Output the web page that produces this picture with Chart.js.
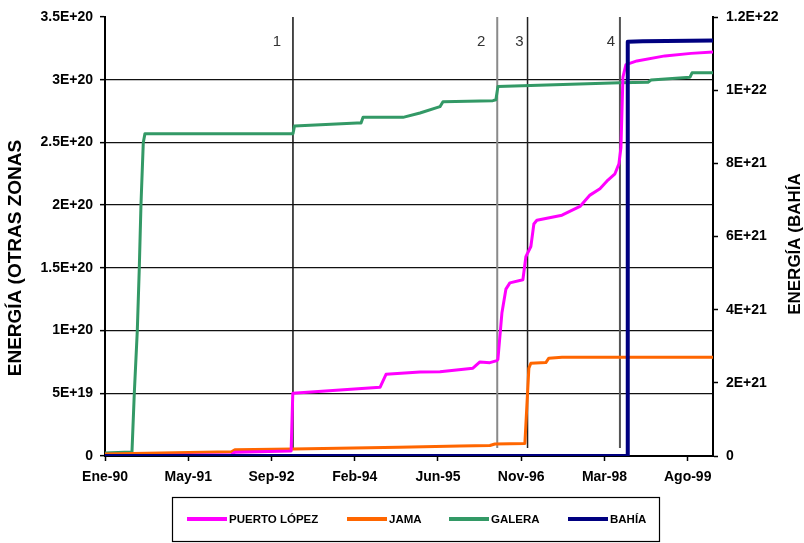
<!DOCTYPE html>
<html>
<head>
<meta charset="utf-8">
<script src="https://cdn.jsdelivr.net/npm/chart.js@4/dist/chart.umd.min.js"></script>
<style>
  html, body { margin: 0; padding: 0; background: #fff; }
  canvas { display: block; }
</style>
</head>
<body>
<canvas id="grafico" width="804" height="543"></canvas>
<script>
// Eje X: días transcurridos desde el 1 de enero de 1990
const diaInicio = 0;      // Ene-90
const diaFin = 3652;      // Ene-00

// Marcas del eje X (cada 500 días) y sus rótulos
const tickDias = [0, 500, 1000, 1500, 2000, 2500, 3000, 3500];
const tickRotulos = ['Ene-90', 'May-91', 'Sep-92', 'Feb-94', 'Jun-95', 'Nov-96', 'Mar-98', 'Ago-99'];

// Energía acumulada — Puerto López (eje izquierdo)
const diasPuertoLopez = [0, 760, 780, 1118, 1128, 1652, 1688, 1892, 2012, 2210, 2252, 2312, 2354, 2360, 2384,
  2408, 2432, 2510, 2528, 2558, 2576, 2594, 2745, 2853, 2913, 2973, 3021, 3063, 3087, 3099, 3111, 3129, 3195,
  3363, 3520, 3652];
const energiaPuertoLopez = [0, 1.0e18, 3.0e18, 4.0e18, 5.0e19, 5.48e19, 6.51e19, 6.70e19, 6.72e19, 7.0e19, 7.5e19,
  7.44e19, 7.6e19, 7.7e19, 1.14e20, 1.33e20, 1.38e20, 1.405e20, 1.59e20, 1.67e20, 1.85e20, 1.88e20, 1.92e20,
  1.99e20, 2.08e20, 2.13e20, 2.20e20, 2.25e20, 2.33e20, 2.46e20, 3.02e20, 3.12e20, 3.15e20, 3.19e20, 3.21e20,
  3.22e20];

// Energía acumulada — Jama (eje izquierdo)
const diasJama = [0, 760, 780, 1130, 1766, 2132, 2312, 2342, 2522, 2534, 2546, 2558, 2648, 2666, 2745, 3652];
const energiaJama = [1.5e18, 3.4e18, 5.0e18, 5.5e18, 7.0e18, 8.0e18, 8.4e18, 9.6e18, 1.0e19, 4.0e19, 7.0e19,
  7.4e19, 7.45e19, 7.8e19, 7.87e19, 7.87e19];

// Energía acumulada — Galera (eje izquierdo)
const diasGalera = [0, 156, 162, 176, 194, 206, 216, 230, 240, 1129, 1138, 1514, 1538, 1550, 1790, 1892, 2012,
  2030, 2330, 2348, 2360, 3093, 3262, 3280, 3514, 3526, 3652];
const energiaGalera = [2.4e18, 3.2e18, 3.2e18, 5.0e19, 1.0e20, 1.5e20, 2.0e20, 2.5e20, 2.57e20, 2.57e20, 2.63e20,
  2.655e20, 2.655e20, 2.70e20, 2.70e20, 2.735e20, 2.785e20, 2.825e20, 2.833e20, 2.84e20, 2.945e20, 2.976e20,
  2.98e20, 2.997e20, 3.02e20, 3.055e20, 3.055e20];

// Energía acumulada — Bahía (eje derecho)
const diasBahia = [0, 3136, 3140, 3230, 3652];
const energiaBahia = [0, 0, 1.1325e22, 1.134e22, 1.136e22];

// Eventos sísmicos señalados con líneas verticales
const diasEventos = [1129, 2356, 2538, 3093];
const rotulosEventos = ['1', '2', '3', '4'];

// Estilos
const FUENTE = "'Liberation Sans', Arial, sans-serif";
const colores = {
  puertoLopez: '#ff00ff',
  jama: '#ff6600',
  galera: '#339966',
  bahia: '#000080'
};
const estiloEventos = [
  { color: '#111111', ancho: 1.5, dx: -16 },
  { color: '#8a8a8a', ancho: 2, dx: -16 },
  { color: '#222222', ancho: 1.5, dx: -8 },
  { color: '#555555', ancho: 2, dx: -9 }
];

const Y_MAX_IZQ = 3.5e20;
const Y_MAX_DER = 1.2e22;
const Y_FIN_EVENTO = 6.4e18;

function puntos(xs, ys) {
  return xs.map((x, i) => ({ x: x, y: ys[i] }));
}

// Formato científico al estilo de la hoja de cálculo: 3.5E+20, 5E+19, 0
function formatoCientifico(v) {
  if (v === 0) return '0';
  const exp = Math.floor(Math.log10(v) + 1e-9);
  const mant = parseFloat((v / Math.pow(10, exp)).toFixed(2));
  return mant + 'E+' + exp;
}

const serie = (etiqueta, xs, ys, color, eje, ancho, orden) => ({
  label: etiqueta,
  data: puntos(xs, ys),
  borderColor: color,
  backgroundColor: color,
  borderWidth: ancho,
  pointRadius: 0,
  tension: 0,
  yAxisID: eje,
  order: orden,
  borderJoinStyle: 'round',
  borderCapStyle: 'butt'
});

const datasets = [
  serie('BAHÍA', diasBahia, energiaBahia, colores.bahia, 'yDer', 4, 0),
  serie('PUERTO LÓPEZ', diasPuertoLopez, energiaPuertoLopez, colores.puertoLopez, 'yIzq', 3, 1),
  serie('JAMA', diasJama, energiaJama, colores.jama, 'yIzq', 3, 2),
  serie('GALERA', diasGalera, energiaGalera, colores.galera, 'yIzq', 3, 3)
];
diasEventos.forEach((d, i) => {
  datasets.push({
    label: 'evento ' + rotulosEventos[i],
    data: [{ x: d, y: Y_MAX_IZQ }, { x: d, y: Y_FIN_EVENTO }],
    borderColor: estiloEventos[i].color,
    borderWidth: estiloEventos[i].ancho,
    pointRadius: 0,
    yAxisID: 'yIzq',
    order: 10 + i
  });
});

// Rótulos de eventos, títulos de ejes y leyenda enmarcada
const decoracion = {
  id: 'decoracion',
  afterDraw(chart) {
    const ctx = chart.ctx;
    const area = chart.chartArea;
    const x = chart.scales.x;

    ctx.save();
    // números de evento
    ctx.fillStyle = '#333';
    ctx.font = '15px ' + FUENTE;
    ctx.textAlign = 'center';
    ctx.textBaseline = 'middle';
    diasEventos.forEach((d, i) => {
      ctx.fillText(rotulosEventos[i], x.getPixelForValue(d) + estiloEventos[i].dx, area.top + 25);
    });

    // títulos de los ejes verticales
    ctx.fillStyle = '#000';
    ctx.save();
    ctx.font = 'bold 19px ' + FUENTE;
    ctx.translate(16, 258);
    ctx.rotate(-Math.PI / 2);
    ctx.fillText('ENERGÍA (OTRAS ZONAS', 0, 0);
    ctx.restore();
    ctx.save();
    ctx.font = 'bold 17px ' + FUENTE;
    ctx.translate(795, 244);
    ctx.rotate(-Math.PI / 2);
    ctx.fillText('ENERGÍA (BAHÍA', 0, 0);
    ctx.restore();

    // leyenda
    const caja = { x: 172, y: 497, w: 487, h: 44 };
    ctx.strokeStyle = '#000';
    ctx.lineWidth = 1.2;
    ctx.strokeRect(caja.x + 0.5, caja.y + 0.5, caja.w, caja.h);
    const items = [
      { txt: 'PUERTO LÓPEZ', color: colores.puertoLopez, x0: 187 },
      { txt: 'JAMA', color: colores.jama, x0: 347 },
      { txt: 'GALERA', color: colores.galera, x0: 449 },
      { txt: 'BAHÍA', color: colores.bahia, x0: 568 }
    ];
    const yl = caja.y + caja.h / 2;
    ctx.font = 'bold 11.5px ' + FUENTE;
    ctx.textAlign = 'left';
    items.forEach(it => {
      ctx.strokeStyle = it.color;
      ctx.lineWidth = 4;
      ctx.beginPath();
      ctx.moveTo(it.x0, yl);
      ctx.lineTo(it.x0 + 40, yl);
      ctx.stroke();
      ctx.fillStyle = '#000';
      ctx.fillText(it.txt, it.x0 + 42, yl + 0.5);
    });
    ctx.restore();
  }
};

Chart.defaults.font.family = FUENTE;
Chart.defaults.color = '#000';

new Chart(document.getElementById('grafico'), {
  type: 'line',
  data: { datasets },
  options: {
    responsive: false,
    animation: false,
    layout: { padding: { top: 17, left: 0, right: 0, bottom: 0 } },
    plugins: {
      legend: { display: false },
      tooltip: { enabled: false }
    },
    scales: {
      x: {
        type: 'linear',
        min: diaInicio,
        max: diaFin,
        afterBuildTicks: (s) => { s.ticks = tickDias.map(v => ({ value: v })); },
        afterFit: (s) => { s.height = 87; },
        ticks: {
          autoSkip: false,
          maxRotation: 0,
          padding: 8,
          font: { size: 14, weight: 'bold' },
          callback: (v, i) => tickRotulos[i]
        },
        grid: { drawOnChartArea: false, tickLength: 5, tickColor: '#000', tickWidth: 1.5 },
        border: { color: '#000', width: 2 }
      },
      yIzq: {
        type: 'linear',
        position: 'left',
        min: 0,
        max: Y_MAX_IZQ,
        afterFit: (s) => { s.width = 105; },
        ticks: {
          stepSize: 5e19,
          padding: 7,
          font: { size: 14, weight: 'bold' },
          callback: (v) => formatoCientifico(v)
        },
        grid: {
          color: (c) => (c.tick && c.tick.value >= Y_MAX_IZQ) ? 'rgba(0,0,0,0)' : '#111',
          lineWidth: 1.3,
          tickLength: 5,
          tickColor: '#000',
          tickWidth: 1.5
        },
        border: { color: '#000', width: 2 }
      },
      yDer: {
        type: 'linear',
        position: 'right',
        min: 0,
        max: Y_MAX_DER,
        afterFit: (s) => { s.width = 91; },
        ticks: {
          stepSize: 2e21,
          padding: 8,
          font: { size: 14, weight: 'bold' },
          callback: (v) => formatoCientifico(v)
        },
        grid: { drawOnChartArea: false, tickLength: 5, tickColor: '#000', tickWidth: 1.5 },
        border: { color: '#000', width: 2 }
      }
    }
  },
  plugins: [decoracion]
});
</script>
</body>
</html>
